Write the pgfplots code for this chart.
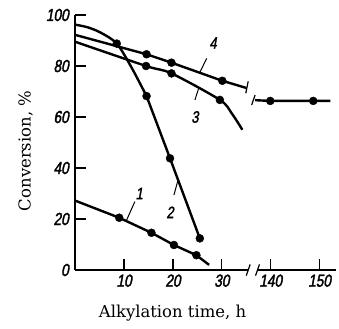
\documentclass[border=0pt]{standalone}
\usepackage{fontspec}
\usepackage{pgfplots}
\pgfplotsset{compat=1.18}
\newfontfamily\tickfont[FakeStretch=0.78,FakeSlant=0.18,FakeBold=2]{Liberation Sans}
\newfontfamily\labfont{DejaVu Serif}
\begin{document}
\begin{tikzpicture}
\path[use as bounding box] (-75.2bp,-59bp) rectangle (263.8bp,270bp);
\begin{axis}[
  scale only axis, width=261bp, height=255bp,
  xmin=0, xmax=53.4, ymin=0, ymax=100,
  axis lines*=left,
  x axis line style={draw=none},
  y axis line style={line width=1.8bp},
  clip=false,
  tick align=inside,
  major tick length=11bp,
  tick style={line width=1.3bp, black},
  xtick={10,20,30,40,50}, xticklabels={10,20,30,140,150},
  ytick={0,20,40,60,80,100}, yticklabels={0,20,40,60,80,100},
  ticklabel style={font=\tickfont\fontsize{17.5}{17.5}\selectfont},
  xticklabel style={yshift=-1bp},
  yticklabel style={xshift=-3bp},
  xlabel={Alkylation time, h},
  ylabel={Conversion, \%},
  xlabel style={font=\labfont\fontsize{16.5}{16.5}\selectfont, at={(axis description cs:0.373,-0.169)}, anchor=center},
  ylabel style={font=\labfont\fontsize{16.5}{16.5}\selectfont, at={(axis description cs:-0.19,0.467)}, anchor=center, rotate=0},
]
% x axis with break
\draw[line width=1.8bp] (axis cs:0,0) -- (axis cs:35.4,0);
\draw[line width=1.8bp] (axis cs:37.4,0) -- (axis cs:53.4,0);
\draw[line width=1.2bp] (axis cs:35.0,-2.2) -- (axis cs:35.8,2.2);
\draw[line width=1.2bp] (axis cs:36.9,-2.2) -- (axis cs:37.7,2.2);
% curve 1
\addplot[line width=2.4bp, black] coordinates {(0,27.2)(9,20.5)(15.6,14.6)(20.2,9.8)(24.8,5.8)(27.4,2)};
\addplot[only marks, mark=*, mark size=4bp, black] coordinates {(9,20.5)(15.6,14.6)(20.2,9.8)(24.8,5.8)};
% curve 2
\addplot[line width=2.4bp, black, smooth] coordinates {(0,96.2)(2.5,95.2)(5.2,93.1)(8.5,88.8)(11.5,79.5)(14.6,68.2)};
\addplot[line width=2.4bp, black] coordinates {(14.6,68.2)(19.4,43.8)(25.5,12.4)};
\addplot[only marks, mark=*, mark size=4bp, black] coordinates {(8.5,88.8)(14.6,68.2)(19.4,43.8)(25.5,12.4)};
% curve 3
\addplot[line width=2.4bp, black, smooth] coordinates {(0,89.5)(14.5,80)(19.7,77.1)(29.6,66.7)(32,61.5)(34.2,55)};
\addplot[only marks, mark=*, mark size=4bp, black] coordinates {(14.5,80)(19.7,77.1)(29.6,66.7)};
% curve 4
\addplot[line width=2.4bp, black] coordinates {(0,92.2)(14.6,84.6)(19.7,81.3)(30.1,74.2)(35,71.4)};
\addplot[line width=2.4bp, black] coordinates {(36.8,66.6)(39.9,66.3)(48.7,66.3)(52.2,66.3)};
\addplot[only marks, mark=*, mark size=4bp, black] coordinates {(14.6,84.6)(19.7,81.3)(30.1,74.2)(39.9,66.3)(48.7,66.3)};
% break ticks on curve 4
\draw[line width=1.2bp] (axis cs:35.4,74) -- (axis cs:34.9,69.3);
\draw[line width=1.2bp] (axis cs:36.8,68.6) -- (axis cs:36.1,64.7);
% curve labels
\node[font=\tickfont\fontsize{16.5}{16.5}\selectfont] at (axis cs:13.1,30) {1};
\draw[line width=1bp] (axis cs:12.2,26.8) -- (axis cs:10.5,19.5);
\node[font=\tickfont\fontsize{16.5}{16.5}\selectfont] at (axis cs:19.4,22.6) {2};
\draw[line width=1bp] (axis cs:21.0,35) -- (axis cs:20.2,29.4);
\node[font=\tickfont\fontsize{16.5}{16.5}\selectfont] at (axis cs:24.5,60) {3};
\draw[line width=1bp] (axis cs:25.3,71.5) -- (axis cs:24.5,66.7);
\node[font=\tickfont\fontsize{16.5}{16.5}\selectfont] at (axis cs:28.2,89) {4};
\draw[line width=1bp] (axis cs:26.9,83) -- (axis cs:25.4,77.1);
\end{axis}
\end{tikzpicture}
\end{document}
